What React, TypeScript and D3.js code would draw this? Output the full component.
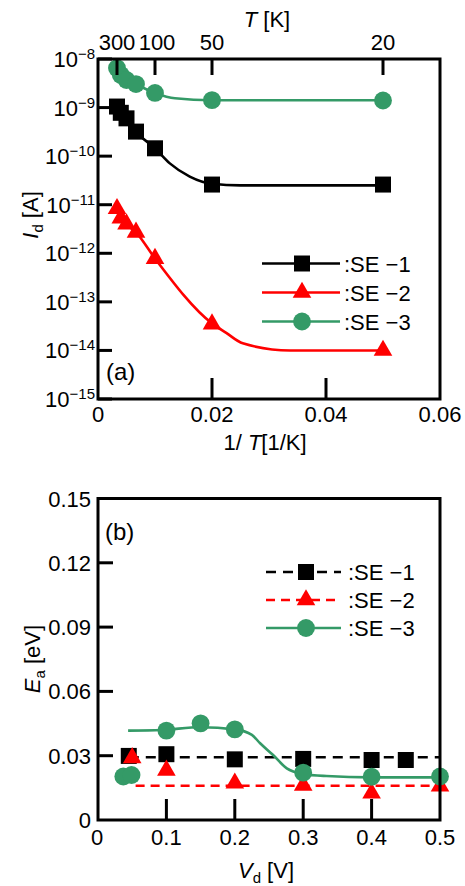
import React from "react";
import * as d3 from "d3";

// ---------- Panel (a) data ----------
const temps = [300, 250, 200, 150, 100, 50, 20];
const se1Id = [1.05e-9, 7.8e-10, 6.0e-10, 3.2e-10, 1.45e-10, 2.6e-11, 2.6e-11];
const se2Id = [8.3e-12, 5.3e-12, 4.0e-12, 2.7e-12, 7.8e-13, 3.5e-14, 1.0e-14];
const se3Id = [6.5e-9, 4.7e-9, 3.7e-9, 3.05e-9, 2.0e-9, 1.42e-9, 1.4e-9];

const fit1X = [0.00333, 0.005, 0.00667, 0.01, 0.0126, 0.0161, 0.02, 0.025, 0.05];
const fit1Y = [1.05e-9, 6.0e-10, 3.2e-10, 1.45e-10, 7.1e-11, 3.8e-11, 2.7e-11, 2.5e-11, 2.5e-11];
const fit2X = [0.00333, 0.005, 0.00667, 0.01, 0.02, 0.0225, 0.0254, 0.0337, 0.05];
const fit2Y = [8.3e-12, 4.0e-12, 2.7e-12, 7.8e-13, 3.6e-14, 2.3e-14, 1.4e-14, 1.0e-14, 1.0e-14];
const fit3X = [0.00333, 0.005, 0.00667, 0.01, 0.0135, 0.02, 0.05];
const fit3Y = [6.5e-9, 3.7e-9, 3.0e-9, 2.0e-9, 1.55e-9, 1.42e-9, 1.42e-9];

const topTTicks = [300, 100, 50, 20];
const xTicksA = [0, 0.02, 0.04, 0.06];
const yExpA = [-8, -9, -10, -11, -12, -13, -14, -15];

// ---------- Panel (b) data ----------
const se1V = [0.045, 0.1, 0.2, 0.3, 0.4, 0.45];
const se1Ea = [0.0299, 0.0307, 0.0283, 0.0285, 0.028, 0.028];
const se2V = [0.05, 0.1, 0.2, 0.3, 0.4, 0.5];
const se2Ea = [0.029, 0.0232, 0.0172, 0.0162, 0.0125, 0.0158];
const se3V = [0.037, 0.049, 0.1, 0.15, 0.2, 0.3, 0.4, 0.5];
const se3Ea = [0.0203, 0.021, 0.0417, 0.0451, 0.0423, 0.0221, 0.0202, 0.0203];

const dash1X = [0.045, 0.5];
const dash1Y = [0.0293, 0.0293];
const dash2X = [0.055, 0.5];
const dash2Y = [0.016, 0.016];
const fitBX = [0.044, 0.093, 0.15, 0.2, 0.225, 0.237, 0.256, 0.276, 0.3, 0.334, 0.4, 0.5];
const fitBY = [0.0417, 0.042, 0.0433, 0.0423, 0.0397, 0.0358, 0.0303, 0.0241, 0.0215, 0.0205, 0.0199, 0.0199];

const xTicksB = [0, 0.1, 0.2, 0.3, 0.4, 0.5];
const yTicksB = [0, 0.03, 0.06, 0.09, 0.12, 0.15];

const GREEN = "#349a67";
const RED = "#ff0000";
const BLACK = "#000000";
const FONT = "'Liberation Sans', Arial, sans-serif";

const sqPath = d3.symbol().type(d3.symbolSquare).size(256)()!;
const triPath = d3.symbol().type(d3.symbolTriangle).size(150)()!;
const circPath = d3.symbol().type(d3.symbolCircle).size(250)()!;

function Marker({ kind, x, y, color }: { kind: string; x: number; y: number; color: string }) {
  const p = kind === "sq" ? sqPath : kind === "tri" ? triPath : circPath;
  return <path d={p} transform={`translate(${x},${y})`} fill={color} />;
}

export default function App() {
  const xA = d3.scaleLinear().domain([0, 0.06]).range([98, 440]);
  const yA = d3.scaleLog().domain([1e-15, 1e-8]).range([399, 59]);
  const xB = d3.scaleLinear().domain([0, 0.5]).range([98, 440]);
  const yB = d3.scaleLinear().domain([0, 0.15]).range([820, 498.5]);

  const lineA = d3
    .line<[number, number]>()
    .x((d) => xA(d[0]))
    .y((d) => yA(d[1]))
    .curve(d3.curveMonotoneX);
  const lineB = d3
    .line<[number, number]>()
    .x((d) => xB(d[0]))
    .y((d) => yB(d[1]))
    .curve(d3.curveMonotoneX);

  const zip = (a: number[], b: number[]) => a.map((v, i) => [v, b[i]] as [number, number]);
  const invT = temps.map((t) => 1 / t);

  const seriesA = [
    { ys: se1Id, fx: fit1X, fy: fit1Y, color: BLACK, kind: "sq", label: ":SE \u22121" },
    { ys: se2Id, fx: fit2X, fy: fit2Y, color: RED, kind: "tri", label: ":SE \u22122" },
    { ys: se3Id, fx: fit3X, fy: fit3Y, color: GREEN, kind: "circ", label: ":SE \u22123" },
  ];

  const seriesB = [
    { xs: se1V, ys: se1Ea, lx: dash1X, ly: dash1Y, color: BLACK, kind: "sq", dash: "10,7", label: ":SE \u22121" },
    { xs: se2V, ys: se2Ea, lx: dash2X, ly: dash2Y, color: RED, kind: "tri", dash: "9,6", label: ":SE \u22122" },
    { xs: se3V, ys: se3Ea, lx: fitBX, ly: fitBY, color: GREEN, kind: "circ", dash: undefined, label: ":SE \u22123" },
  ];

  const fs = 22;
  const sub = 15;

  return (
    <svg
      width={465}
      height={886}
      style={{ position: "absolute", left: 0, top: 0, background: "#fff" }}
      fontFamily={FONT}
    >
      <rect x={0} y={0} width={465} height={886} fill="#fff" />

      {/* ================= PANEL A ================= */}
      {seriesA.map((s, i) => (
        <path key={"la" + i} d={lineA(zip(s.fx, s.fy))!} fill="none" stroke={s.color} strokeWidth={2.6} />
      ))}
      {seriesA.map((s, i) =>
        s.ys.map((v, j) => (
          <Marker key={"ma" + i + "_" + j} kind={s.kind} x={xA(invT[j])} y={yA(v)} color={s.color} />
        ))
      )}

      <rect x={98} y={59} width={342} height={340} fill="none" stroke="#000" strokeWidth={3} />
      {yExpA.map((e) => (
        <line key={"yta" + e} x1={98} x2={112} y1={yA(Math.pow(10, e))} y2={yA(Math.pow(10, e))} stroke="#000" strokeWidth={3} />
      ))}
      {yExpA.map((e) => (
        <text key={"ytla" + e} x={95} y={yA(Math.pow(10, e)) + 8} fontSize={fs} textAnchor="end">
          10
          <tspan fontSize={sub} dy={-8}>
            {"\u2212" + Math.abs(e)}
          </tspan>
        </text>
      ))}
      {xTicksA.slice(1, -1).map((t) => (
        <line key={"xta" + t} x1={xA(t)} x2={xA(t)} y1={399} y2={378} stroke="#000" strokeWidth={3} />
      ))}
      {xTicksA.map((t) => (
        <text key={"xtla" + t} x={xA(t)} y={422} fontSize={fs} textAnchor="middle">
          {t === 0 ? "0" : d3.format(".2f")(t)}
        </text>
      ))}
      {topTTicks.map((t) => (
        <line key={"tta" + t} x1={xA(1 / t)} x2={xA(1 / t)} y1={59} y2={75} stroke="#000" strokeWidth={3} />
      ))}
      {topTTicks.map((t) => (
        <text key={"ttla" + t} x={xA(1 / t) + (t === 100 ? 2 : 0)} y={50} fontSize={fs} textAnchor="middle">
          {String(t)}
        </text>
      ))}
      <text x={267} y={27} fontSize={fs} textAnchor="middle">
        <tspan fontStyle="italic">T</tspan> [K]
      </text>
      <text x={265} y={450} fontSize={fs} textAnchor="middle">
        1/ <tspan fontStyle="italic">T</tspan>[1/K]
      </text>
      <text transform="translate(38,215) rotate(-90)" fontSize={fs} textAnchor="middle">
        <tspan fontStyle="italic">I</tspan>
        <tspan fontSize={sub} dy={5}>d</tspan>
        <tspan dy={-5}> [A]</tspan>
      </text>
      <text x={106} y={380} fontSize={24}>
        (a)
      </text>

      {seriesA.map((s, i) => {
        const y = 263.5 + i * 29;
        return (
          <g key={"lga" + i}>
            <line x1={262} x2={340} y1={y} y2={y} stroke={s.color} strokeWidth={2.6} />
            <Marker kind={s.kind} x={302} y={y} color={s.color} />
            <text x={344} y={y + 8} fontSize={fs}>
              {s.label}
            </text>
          </g>
        );
      })}

      {/* ================= PANEL B ================= */}
      {seriesB.map((s, i) => (
        <path
          key={"lb" + i}
          d={lineB(zip(s.lx, s.ly))!}
          fill="none"
          stroke={s.color}
          strokeWidth={2.6}
          strokeDasharray={s.dash}
        />
      ))}
      {seriesB.map((s, i) =>
        s.xs.map((v, j) => (
          <Marker key={"mb" + i + "_" + j} kind={s.kind} x={xB(v)} y={yB(s.ys[j])} color={s.color} />
        ))
      )}

      <rect x={98} y={498.5} width={342} height={321.5} fill="none" stroke="#000" strokeWidth={3} />
      {yTicksB.slice(1, -1).map((t) => (
        <line key={"ytb" + t} x1={98} x2={113} y1={yB(t)} y2={yB(t)} stroke="#000" strokeWidth={3} />
      ))}
      {yTicksB.map((t) => (
        <text key={"ytlb" + t} x={91} y={yB(t) + 8} fontSize={fs} textAnchor="end">
          {t === 0 ? "0" : d3.format(".2f")(t)}
        </text>
      ))}
      {xTicksB.slice(1, -1).map((t) => (
        <line key={"xtb" + t} x1={xB(t)} x2={xB(t)} y1={820} y2={799} stroke="#000" strokeWidth={3} />
      ))}
      {xTicksB.map((t) => (
        <text key={"xtlb" + t} x={xB(t) - (t === 0 ? 1 : 0)} y={845} fontSize={fs} textAnchor="middle">
          {t === 0 ? "0" : d3.format(".1f")(t)}
        </text>
      ))}
      <text x={266} y={878} fontSize={fs} textAnchor="middle">
        <tspan fontStyle="italic">V</tspan>
        <tspan fontSize={sub} dy={5}>d</tspan>
        <tspan dy={-5}> [V]</tspan>
      </text>
      <text transform="translate(40,659) rotate(-90)" fontSize={fs} textAnchor="middle">
        <tspan fontStyle="italic">E</tspan>
        <tspan fontSize={sub} dy={5}>a</tspan>
        <tspan dy={-5}> [eV]</tspan>
      </text>
      <text x={105} y={540} fontSize={24}>
        (b)
      </text>

      {seriesB.map((s, i) => {
        const y = 572 + i * 28;
        return (
          <g key={"lgb" + i}>
            <line
              x1={266}
              x2={341}
              y1={y}
              y2={y}
              stroke={s.color}
              strokeWidth={2.6}
              strokeDasharray={s.dash}
            />
            <Marker kind={s.kind} x={306} y={y} color={s.color} />
            <text x={348} y={y + 8} fontSize={fs}>
              {s.label}
            </text>
          </g>
        );
      })}
    </svg>
  );
}
